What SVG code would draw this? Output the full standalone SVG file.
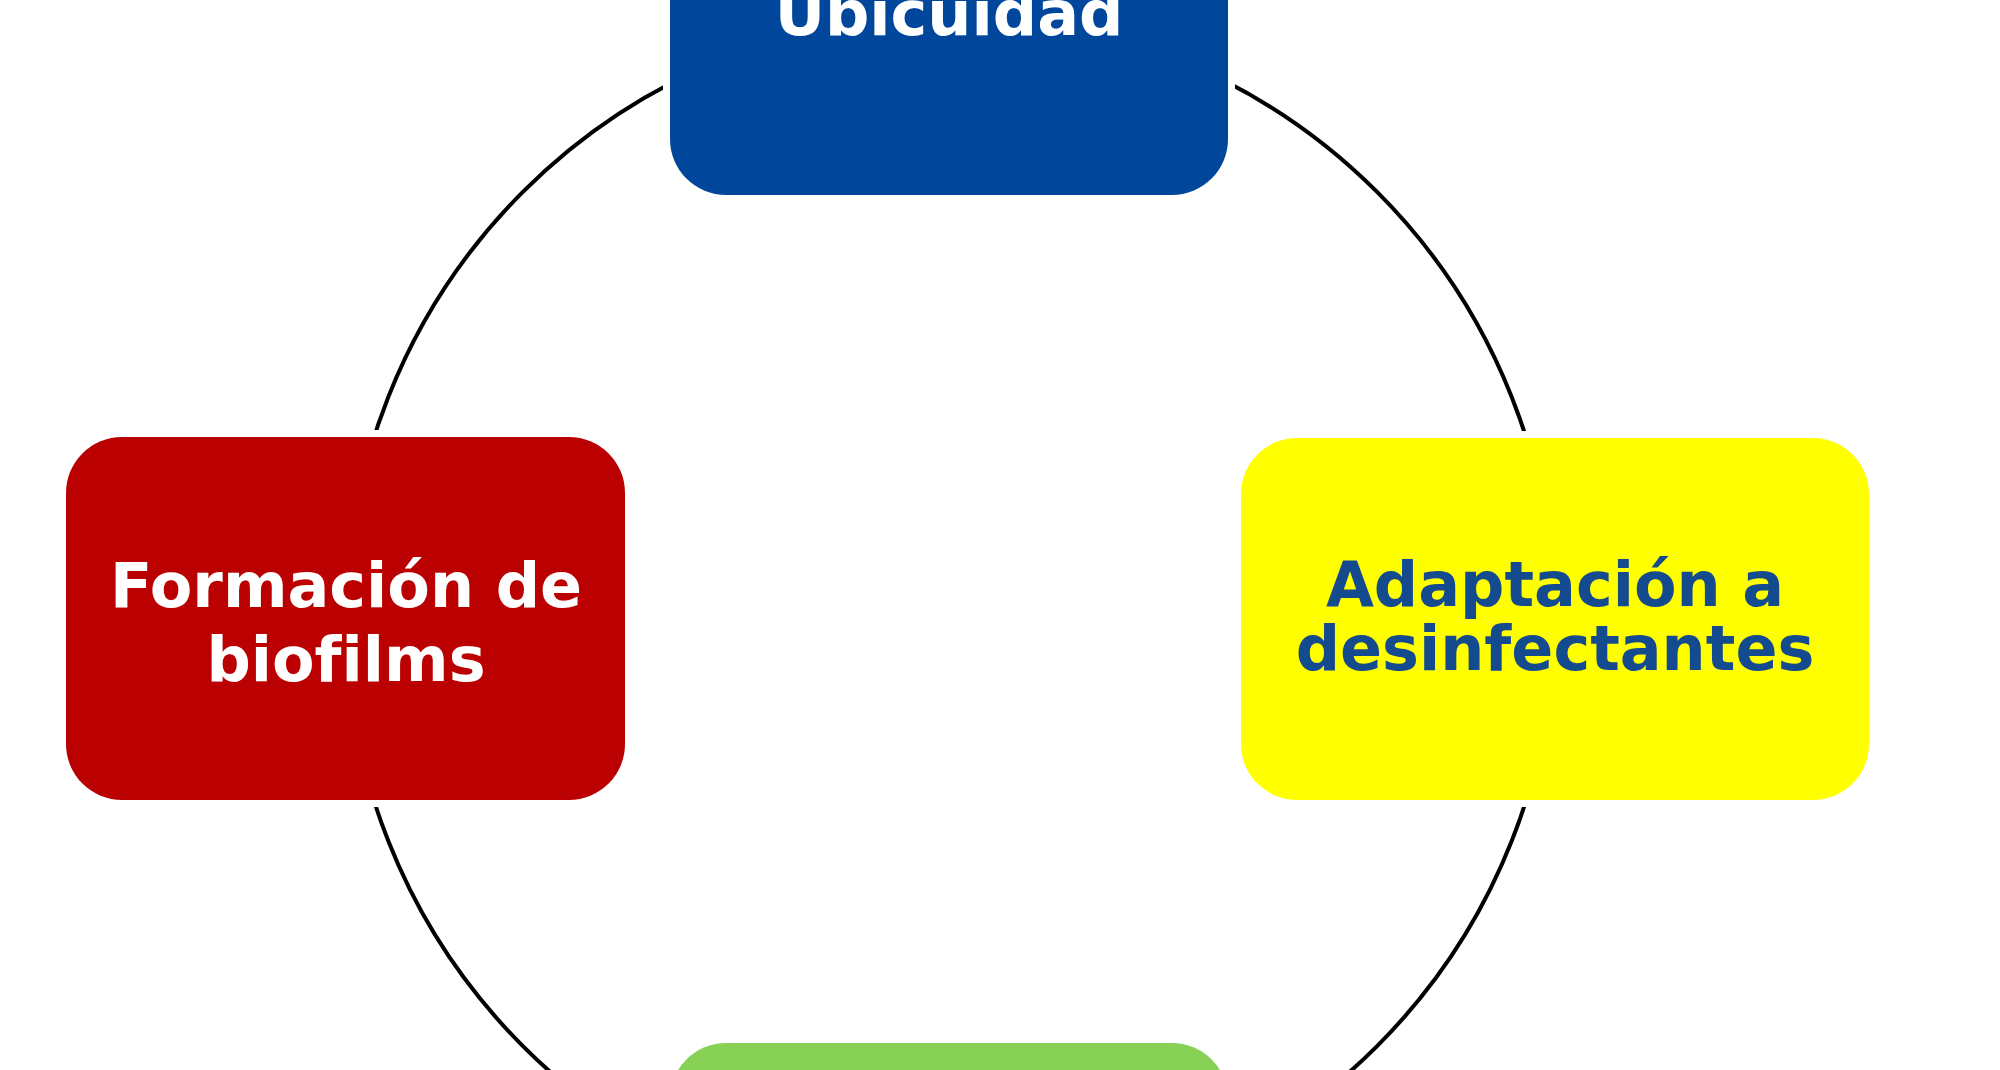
<svg xmlns="http://www.w3.org/2000/svg" width="2000" height="1070" viewBox="0 0 2000 1070">
<style>
.box{stroke:#ffffff;stroke-width:14;paint-order:stroke}
.lbl{font-family:"DejaVu Sans","Liberation Sans",sans-serif;font-weight:bold;font-size:62px;text-anchor:middle;font-variant-ligatures:none;font-feature-settings:"liga" 0}
.w{fill:#ffffff}
.b{fill:#134B8E}
.ring{fill:none;stroke:#000000;stroke-width:4}
</style>
<rect x="0" y="0" width="2000" height="1070" fill="#ffffff"/>
<g id="connectors">
<circle class="ring" cx="950" cy="619" r="604"/>
</g>
<g id="node-ubicuidad">
<rect class="box" x="670" y="-168" width="558" height="363" rx="56" ry="56" fill="#00479B"/>
<text class="lbl w" x="949" y="35">Ubicuidad</text>
</g>
<g id="node-biofilms">
<rect class="box" x="66" y="437" width="559" height="363" rx="56" ry="56" fill="#BA0000"/>
<text class="lbl w" x="346" y="607">Formación de</text>
<text class="lbl w" x="346" y="681">biofilms</text>
</g>
<g id="node-adaptacion">
<rect class="box" x="1241" y="438" width="628" height="362" rx="56" ry="56" fill="#FFFF00"/>
<text class="lbl b" x="1555" y="606">Adaptación a</text>
<text class="lbl b" x="1555" y="670">desinfectantes</text>
</g>
<g id="node-bottom">
<rect class="box" x="670" y="1043" width="558" height="363" rx="56" ry="56" fill="#88D157"/>
</g>
</svg>
